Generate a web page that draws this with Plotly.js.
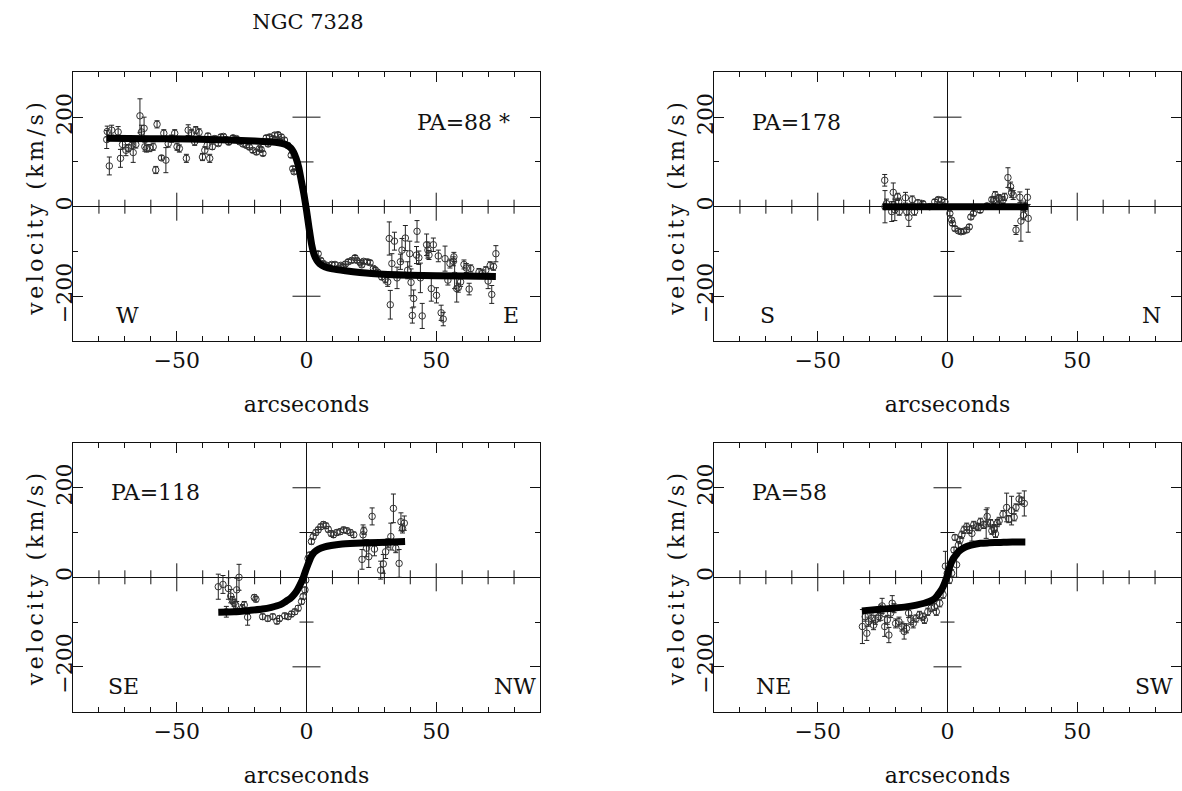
<!DOCTYPE html>
<html><head><meta charset="utf-8">
<script src="https://cdn.plot.ly/plotly-3.0.1.min.js"></script>
<style>
body{margin:0;background:#fff}
text.ytitle, text.y2title, text.y3title, text.y4title { letter-spacing: 3.5px; }
</style>
</head><body>
<div id="chart" style="width:1182px;height:791px"></div>
<script>
// ---------- PA = 88 ----------
const pa88X = [-76.8,-77.0,-76.0,-75.1,-72.6,-71.7,-70.9,-69.6,-68.7,-67.4,-66.8,-65.8,-64.2,-63.6,-62.6,-62.3,-61.7,-60.4,-59.1,-57.6,-58.1,-55.9,-55.0,-54.2,-53.3,-52.0,-50.8,-49.9,-49.0,-46.3,-45.6,-44.3,-43.1,-42.7,-41.4,-40.1,-39.2,-38.3,-38.0,-37.3,-36.3,-35.4,-33.0,-31.0,-28.3,-25.8,-23.2,-20.7,-19.3,-18.1,-16.8,-15.5,-14.2,-12.3,-11.0,-9.7,-8.5,-7.2,-5.9,-5.3,-4.8,
  -34.0,-32.0,-30.0,-27.0,-24.5,-22.0,-17.5,-14.8,-13.0,-10.5,
  4.5,6.5,7.8,9.7,11.0,14.2,16.1,17.4,18.7,19.4,20.7,22.0,23.5,24.5,25.8,27.4,29.0,30.4,31.3,
  5.5,8.8,12.5,13.2,15.0,21.3,26.5,
  31.9,32.3,32.9,33.9,34.9,36.2,36.8,38.1,39.0,39.8,40.3,40.8,41.3,42.4,42.6,43.3,43.9,44.6,46.3,46.8,47.2,48.1,48.9,50.1,50.8,51.9,52.7,53.4,54.5,55.3,56.6,56.8,57.1,57.9,58.5,59.4,60.7,61.6,62.7,63.3,66.5,67.8,69.1,70.0,70.8,71.4,72.1,73.0];
const pa88V = [168,150,91,171,167,108,139,126,131,137,121,139,203,167,175,134,130,131,134,184,82,109,164,104,141,152,164,134,130,108,171,164,145,171,166,111,126,137,158,108,134,152,156,150,154,145,137,126,122,130,119,154,156,160,161,156,149,137,115,85,78,
  141,157,144,152,140,133,128,140,152,147,
  -105,-127,-131,-129,-129,-134,-123,-120,-114,-120,-125,-122,-123,-125,-138,-146,-157,-162,-168,
  -120,-136,-137,-131,-128,-130,-141,
  -71,-219,-127,-77,-159,-123,-97,-70,-142,-105,-169,-243,-205,-108,-55,-114,-159,-244,-85,-97,-108,-183,-85,-198,-110,-237,-251,-116,-164,-127,-122,-112,-153,-183,-181,-168,-129,-137,-184,-138,-146,-149,-142,-166,-131,-196,-134,-105];
const pa88E = [12,20,20,11,12,20,10,12,8,8,22,8,38,15,25,10,8,8,8,8,8,5,8,28,8,8,8,8,8,9,12,8,8,8,8,8,8,8,6,9,6,6,5,5,5,5,5,5,5,5,5,5,5,5,5,5,5,5,5,5,5,
  5,5,5,5,5,5,5,5,5,5,
  5,5,5,5,5,5,5,5,5,5,5,5,5,5,5,5,6,8,10,
  5,5,5,5,5,5,5,
  37,32,22,20,24,17,26,28,19,28,30,17,19,19,24,15,33,28,24,18,10,28,15,17,13,17,15,28,11,10,10,10,30,30,10,10,10,10,13,8,8,8,8,17,8,20,8,18];
const pa88CurveX = [-77,-60,-45,-30,-20,-12,-8,-6,-5,-4,-3,-2,-1,0,1,2,3,4,5,7,10,15,25,40,60,73];
const pa88CurveV = [153,152,151,149,147,144,139,131,122,108,88,58,28,-8,-48,-85,-108,-120,-127,-134,-139,-143,-149,-153,-155,-156];

// ---------- PA = 178 ----------
const pa178X = [-24.2,-24.1,-23.5,-21.5,-20.9,-20.3,-19.2,-18.8,-18.6,-16.2,-15.7,-14.9,-13.6,-12.7,-11.4,-9.5,-6.9,-4.9,-3.6,-2.3,-1.0,0.9,1.6,1.9,2.9,4.2,5.2,6.1,7.4,8.4,9.0,10.0,12.6,15.2,17.1,17.8,18.4,19.7,19.9,21.4,22.0,23.3,24.3,24.7,25.3,26.4,27.9,28.3,29.3,29.8,30.8,31.1];
const pa178V = [59,0,7,-11,32,-7,22,11,-11,20,-11,-24,16,-11,9,7,0,11,16,15,11,-15,-30,-37,-49,-54,-56,-55,-52,-45,-23,-15,-8,2,16,15,26,18,19,15,22,65,45,31,26,-52,21,-32,-19,0,21,-26];
const pa178E = [13,36,10,22,21,24,8,8,8,12,8,20,8,8,6,5,5,5,5,5,5,5,5,5,5,5,5,5,5,5,5,5,5,5,5,8,8,8,8,8,8,22,10,10,10,10,12,45,10,10,18,31];
const pa178CurveX = [-25,-15,-5,0,5,15,25,31];
const pa178CurveV = [0,0,0,0,0,0,0,0];

// ---------- PA = 118 ----------
const pa118X = [-34.0,-32.2,-30.9,-30.1,-29.2,-28.6,-27.9,-27.3,-26.9,-26.0,-24.7,-24.0,-22.7,-20.1,-19.5,-16.9,-14.9,-13.0,-11.4,-10.4,-8.4,-7.1,-5.8,-4.5,-3.2,-1.9,-1.3,-0.6,-0.3,0.6,1.3,1.9,2.6,3.6,4.5,5.5,6.5,7.5,8.4,9.5,10.4,11.7,13.0,14.3,15.6,16.9,18.2,21.4,21.8,22.1,23.1,24.0,25.3,26.2,28.6,29.6,30.5,31.4,32.5,33.5,34.4,35.7,36.4,37.0,37.7];
const pa118V = [-21,-16,-77,-25,-42,-51,-57,-62,-28,0,-69,-62,-89,-45,-49,-88,-92,-88,-98,-92,-86,-88,-82,-77,-69,-54,-43,-28,-6,42,50,80,91,100,106,113,118,115,107,98,95,100,102,106,104,100,95,40,95,104,65,46,136,63,16,30,57,76,91,154,65,31,124,109,121];
const pa118E = [28,20,12,24,15,8,8,8,26,29,8,8,18,6,6,6,6,6,6,6,6,6,6,6,6,6,6,6,6,6,6,6,6,6,6,6,6,6,6,6,6,6,6,6,6,6,6,22,22,8,19,24,19,15,20,21,15,10,30,32,10,31,20,10,16];
const pa118CurveX = [-34,-28,-22,-17,-13.5,-10,-8,-6,-4.7,-3.5,-2.5,-1.4,0,1,2,3,4.7,7,9.5,13,19,28,38];
const pa118CurveV = [-78,-77,-74,-71,-67,-61,-54,-46,-38,-28,-17,-3,20,35,48,56,63,68,71,74,76,78,80];

// ---------- PA = 58 ----------
const pa58X = [-32.8,-31.7,-31.1,-30.4,-29.4,-28.5,-27.8,-26.5,-25.8,-25.2,-24.2,-23.2,-22.6,-21.9,-21.3,-20.6,-20.0,-18.7,-17.6,-16.7,-15.8,-15.0,-14.1,-13.2,-12.1,-10.8,-9.5,-8.9,-7.6,-6.3,-5.0,-4.3,-3.0,-1.7,-0.8,-0.1,0.7,1.6,2.5,2.9,3.5,4.2,4.8,5.5,6.4,7.4,8.5,9.4,10.1,11.4,12.0,12.7,14.0,14.9,15.3,16.6,17.1,17.9,18.0,18.5,19.2,19.9,21.4,22.8,23.6,24.7,25.7,26.4,27.6,28.6,29.6];
const pa58V = [-110,-88,-125,-99,-92,-107,-95,-88,-79,-64,-110,-95,-129,-80,-58,-69,-103,-99,-110,-121,-114,-80,-95,-103,-92,-84,-88,-95,-77,-69,-66,-77,-58,-39,25,9,-6,9,61,89,28,72,83,95,106,113,106,98,117,113,112,124,117,119,136,121,104,110,108,97,121,126,141,156,130,149,134,156,175,171,165];
const pa58E = [38,10,16,10,10,10,10,10,17,17,22,10,17,10,17,10,10,10,10,17,10,10,10,10,8,8,8,8,8,8,8,8,8,8,33,8,8,8,6,6,28,8,8,8,8,8,8,17,8,8,8,8,8,32,19,8,8,8,8,8,8,8,8,32,8,32,8,8,13,8,28];
const pa58CurveX = [-33,-27,-21,-16,-12,-9,-7,-5,-3.7,-2.7,-1.7,-0.4,0.9,2.2,3.3,4.2,5.5,7.4,9.1,12.7,16,20.5,25,30];
const pa58CurveV = [-75,-72,-69,-66,-62,-58,-54,-48,-39,-31,-21,-2,24,42,50,57,63,69,72,76,77,78,79,79];

// ---------- labels & ticks ----------
const paLabels = ['PA=88 *','PA=178','PA=118','PA=58'];
const leftDirs = ['W','S','SE','NE'];
const rightDirs = ['E','N','NW','SW'];
const xCrossMajor = [-50,50];
const xCrossMinor = [-80,-70,-60,-40,-30,-20,-10,10,20,30,40,60,70,80];
const yCrossMajor = [-200,200];
const yCrossMinor = [-100,100];

const FONT = 'DejaVu Serif';
const INK = '#111';
const FS = 22;

const panels = [
  {px:pa88X, pv:pa88V, pe:pa88E, cx:pa88CurveX, cv:pa88CurveV},
  {px:pa178X, pv:pa178V, pe:pa178E, cx:pa178CurveX, cv:pa178CurveV},
  {px:pa118X, pv:pa118V, pe:pa118E, cx:pa118CurveX, cv:pa118CurveV},
  {px:pa58X, pv:pa58V, pe:pa58E, cx:pa58CurveX, cv:pa58CurveV}
];

const traces = [];
panels.forEach((p, i) => {
  const xa = i === 0 ? 'x' : 'x' + (i + 1);
  const ya = i === 0 ? 'y' : 'y' + (i + 1);
  // cross ticks on the zero lines
  traces.push({type:'scatter', mode:'markers', xaxis:xa, yaxis:ya, hoverinfo:'skip',
    x:xCrossMinor, y:xCrossMinor.map(() => 0),
    marker:{symbol:'line-ns', size:10, line:{width:1, color:INK}}});
  traces.push({type:'scatter', mode:'markers', xaxis:xa, yaxis:ya, hoverinfo:'skip',
    x:xCrossMajor, y:xCrossMajor.map(() => 0),
    marker:{symbol:'line-ns', size:20, line:{width:1, color:INK}}});
  traces.push({type:'scatter', mode:'markers', xaxis:xa, yaxis:ya, hoverinfo:'skip',
    x:yCrossMinor.map(() => 0), y:yCrossMinor,
    marker:{symbol:'line-ew', size:10, line:{width:1, color:INK}}});
  traces.push({type:'scatter', mode:'markers', xaxis:xa, yaxis:ya, hoverinfo:'skip',
    x:yCrossMajor.map(() => 0), y:yCrossMajor,
    marker:{symbol:'line-ew', size:20, line:{width:1, color:INK}}});
  // data points with error bars
  traces.push({type:'scatter', mode:'markers', xaxis:xa, yaxis:ya, hoverinfo:'skip',
    x:p.px, y:p.pv,
    error_y:{type:'data', array:p.pe, visible:true, thickness:1, width:2.5, color:'#222'},
    marker:{symbol:'circle-open', size:6.5, color:'#333', line:{width:1, color:'#333'}}});
  // model curve
  traces.push({type:'scatter', mode:'lines', xaxis:xa, yaxis:ya, hoverinfo:'skip',
    x:p.cx, y:p.cv, line:{color:'#000', width:7, shape:'spline', smoothing:0.6}});
});

const xDomL = [73/1182, 540/1182];
const xDomR = [714/1182, 1181/1182];
const yDomT = [1 - 341/791, 1 - 72.4/791];
const yDomB = [1 - 711.6/791, 1 - 443/791];

function xAxis(domain, anchor) {
  return {domain, anchor, range:[-90,90], showgrid:false,
    showline:true, mirror:'ticks', linecolor:INK, linewidth:1,
    zeroline:true, zerolinecolor:INK, zerolinewidth:1,
    ticks:'inside', ticklen:10, tickwidth:1, tickcolor:INK,
    tickmode:'linear', tick0:0, dtick:50, ticklabelstandoff:0,
    minor:{tickmode:'linear', tick0:0, dtick:10, ticks:'inside', ticklen:5, tickwidth:1, tickcolor:INK, showgrid:false},
    tickfont:{family:FONT, size:FS, color:INK},
    title:{text:'arcseconds', font:{family:FONT, size:FS, color:INK}, standoff:24},
    fixedrange:true};
}
function yAxis(domain, anchor) {
  return {domain, anchor, range:[-300,300], showgrid:false,
    showline:true, mirror:'ticks', linecolor:INK, linewidth:1,
    zeroline:true, zerolinecolor:INK, zerolinewidth:1,
    ticks:'inside', ticklen:10, tickwidth:1, tickcolor:INK,
    tickmode:'linear', tick0:0, dtick:200, tickangle:-90, ticklabelstandoff:-9,
    minor:{tickmode:'linear', tick0:0, dtick:100, ticks:'inside', ticklen:5, tickwidth:1, tickcolor:INK, showgrid:false},
    tickfont:{family:FONT, size:FS, color:INK},
    title:{text:'velocity (km/s)', font:{family:FONT, size:FS, color:INK}, standoff:2},
    fixedrange:true};
}

const annotations = [];
const paX = [41.7, -76, -76, -76];
const leftX = [-69, -69.5, -70.6, -67];
const rightX = [78.7, 78.6, 80.2, 79.7];
paLabels.forEach((t, i) => {
  const xr = i === 0 ? 'x' : 'x' + (i + 1);
  const yr = i === 0 ? 'y' : 'y' + (i + 1);
  annotations.push({text:t, xref:xr, yref:yr, x:paX[i], y:189, xanchor:'left', yanchor:'middle', showarrow:false,
    font:{family:FONT, size:FS, color:INK}});
  annotations.push({text:leftDirs[i], xref:xr, yref:yr, x:leftX[i], y:-243, xanchor:'center', yanchor:'middle', showarrow:false,
    font:{family:FONT, size:FS, color:INK}});
  annotations.push({text:rightDirs[i], xref:xr, yref:yr, x:rightX[i], y:-243, xanchor:'center', yanchor:'middle', showarrow:false,
    font:{family:FONT, size:FS, color:INK}});
});

const layout = {
  width:1182, height:791,
  margin:{l:0, r:0, t:0, b:0},
  paper_bgcolor:'#fff', plot_bgcolor:'#fff',
  showlegend:false, hovermode:false,
  title:{text:'NGC 7328', x:308/1182, xref:'paper', xanchor:'center', y:1 - 22/791, yref:'paper', yanchor:'middle',
    font:{family:FONT, size:21, color:INK}},
  xaxis:xAxis(xDomL, 'y'), yaxis:yAxis(yDomT, 'x'),
  xaxis2:xAxis(xDomR, 'y2'), yaxis2:yAxis(yDomT, 'x2'),
  xaxis3:xAxis(xDomL, 'y3'), yaxis3:yAxis(yDomB, 'x3'),
  xaxis4:xAxis(xDomR, 'y4'), yaxis4:yAxis(yDomB, 'x4'),
  annotations
};

Plotly.newPlot('chart', traces, layout, {staticPlot:true, displayModeBar:false});
</script>
</body></html>
